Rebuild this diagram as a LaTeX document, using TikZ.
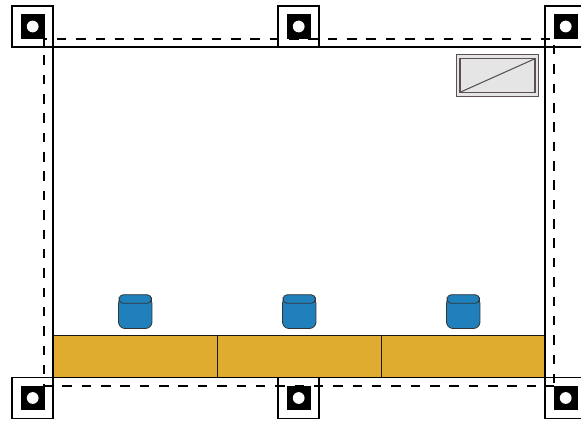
\documentclass[tikz,border=0pt]{standalone}
\usepackage{xcolor}
\usetikzlibrary{positioning}
\definecolor{counterfill}{HTML}{DFAC2F}
\definecolor{potfill}{HTML}{2080BC}
\definecolor{winedge}{HTML}{5A5050}
\begin{document}
\begin{tikzpicture}
\tikzstyle{post}    = [rectangle, draw=black, fill=white, line width=1pt, minimum size=0.82cm, inner sep=0pt, outer sep=0pt]
\tikzstyle{core}    = [rectangle, fill=black, minimum size=0.49cm, inner sep=0pt, outer sep=0pt, xshift=0.012cm]
\tikzstyle{hole}    = [circle, fill=white, minimum size=0.235cm, inner sep=0pt, outer sep=0pt, xshift=0.004cm]
\tikzstyle{counter} = [rectangle, draw=black!90, fill=counterfill, line width=0.45pt, minimum width=3.28cm, minimum height=0.84cm, inner sep=0pt, outer sep=0pt]
\tikzstyle{potbody} = [rectangle, rounded corners=0.13cm, draw=black!80, fill=potfill, line width=0.45pt, minimum width=0.67cm, minimum height=0.63cm, inner sep=0pt, outer sep=0pt]
\tikzstyle{pottop}  = [rectangle, rounded corners=0.085cm, draw=black!80, fill=potfill, line width=0.45pt, minimum width=0.65cm, minimum height=0.17cm, inner sep=0pt, outer sep=0pt]
\tikzstyle{winout}  = [rectangle, draw=winedge, fill=black!10, line width=0.6pt, minimum width=1.64cm, minimum height=0.848cm, inner sep=0pt, outer sep=0pt]
\tikzstyle{winin}   = [rectangle, draw=winedge, line width=0.6pt, minimum width=1.5cm, minimum height=0.672cm, inner sep=0pt, outer sep=0pt]
\tikzstyle{wall}    = [draw=black, line width=1pt]
\tikzstyle{guide}   = [draw=black, line width=0.6pt, dash pattern=on 0.19cm off 0.197cm]
\clip (0.00, 0.00) rectangle (11.62, 8.42);
% posts
\node[post] at (0.65, 7.89)  (post_nw){};
\node[post] at (5.97, 7.89)  (post_n){};
\node[post] at (11.31, 7.89) (post_ne){};
\node[post] at (0.65, 0.46)  (post_sw){};
\node[post] at (5.97, 0.46)  (post_s){};
\node[post] at (11.31, 0.46) (post_se){};
\node[core] at (post_nw) (core_nw){};
\node[core] at (post_n)  (core_n){};
\node[core] at (post_ne) (core_ne){};
\node[core] at (post_sw) (core_sw){};
\node[core] at (post_s)  (core_s){};
\node[core] at (post_se) (core_se){};
\node[hole] at (post_nw) (hole_nw){};
\node[hole] at (post_n)  (hole_n){};
\node[hole] at (post_ne) (hole_ne){};
\node[hole] at (post_sw) (hole_sw){};
\node[hole] at (post_s)  (hole_s){};
\node[hole] at (post_se) (hole_se){};
% counter and pots
\node[counter] at (2.70, 1.30) (counter_0){};
\node[counter] at (5.98, 1.30) (counter_1){};
\node[counter] at (9.26, 1.30) (counter_2){};
\node[potbody] at (2.705, 2.165) (pot_0){};
\node[potbody] at (5.985, 2.165) (pot_1){};
\node[potbody] at (9.265, 2.165) (pot_2){};
\node[pottop] at (2.705, 2.44) (top_0){};
\node[pottop] at (5.985, 2.44) (top_1){};
\node[pottop] at (9.265, 2.44) (top_2){};
% window
\node[winout] at (9.95, 6.91) (win_out){};
\node[winin] at (9.95, 6.91) (win_in){};
\draw[winedge, line width=0.6pt] (win_in.south west) -- (win_in.north east);
% walls
\coordinate (wall_nw) at (post_nw.south east);
\coordinate (wall_ne) at (post_ne.south west);
\coordinate (wall_sw) at (post_sw.north east);
\coordinate (wall_se) at (post_se.north west);
\draw[wall] (post_nw.south west) -- (post_ne.south east);
\draw[wall] (wall_nw) -- (wall_sw);
\draw[wall] (wall_ne) -- (wall_se);
\draw[wall] (wall_sw) -- (wall_se);
% dashed outline
\coordinate (line_nw) at (0.88, 7.64);
\coordinate (line_ne) at (11.08, 7.64);
\coordinate (line_sw) at (0.88, 0.70);
\coordinate (line_se) at (11.08, 0.70);
\draw[guide, dash phase=0.13cm] (line_nw) -- (line_ne) -- (line_se);
\draw[guide, dash phase=0.06cm] (line_nw) -- (line_sw);
\draw[guide, dash phase=0.02cm] (line_sw) -- (line_se);
\end{tikzpicture}
\end{document}
